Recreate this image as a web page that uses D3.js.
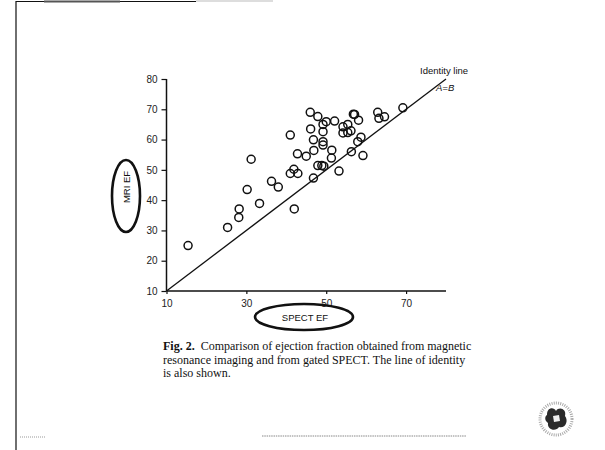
<!DOCTYPE html>
<html lang="en">
<head>
<meta charset="UTF-8" />
<title>MRI EF vs SPECT EF</title>
<script src="https://cdn.jsdelivr.net/npm/d3@7"></script>
<style>
body{margin:0;background:#fff}
svg{display:block}
.tick text{font-family:"Liberation Sans",Arial,sans-serif;font-size:10px;fill:#222}
.cap{font-family:"Liberation Serif","Times New Roman",serif;font-size:12px;fill:#111}
.lbl{font-family:"Liberation Sans",Arial,sans-serif;font-size:9.5px;fill:#111}
</style>
</head>
<body>
<svg id="chart" width="605" height="450"></svg>
<script>
/* ===== data ===== */
const spectEF=[15.4,25.3,28.1,28.2,30.2,31.2,33.3,36.3,38.0,41.0,41.0,41.9,42.9,42.0,42.8,45.0,
  46.0,46.1,47.9,46.8,46.9,46.8,49.2,49.2,49.2,49.2,50.0,52.1,47.9,48.9,49.4,51.4,51.3,53.2,
  54.2,54.2,55.4,55.4,56.2,56.8,57.1,58.1,56.3,57.9,58.7,59.2,62.9,63.2,64.6,69.2];
const mriEF=[25.0,31.0,34.3,37.1,43.5,53.5,38.9,46.2,44.3,61.5,48.8,50.2,48.8,37.1,55.3,54.5,
  69.0,63.5,67.6,59.9,56.4,47.3,65.0,62.6,59.3,58.2,65.9,66.1,51.4,51.4,51.2,56.5,53.9,49.6,
  64.2,62.2,65.0,62.3,62.9,68.4,68.3,66.4,56.0,59.3,60.8,54.7,69.0,67.0,67.5,70.5];
const xTicks=[10,30,50,70];
const yTicks=[10,20,30,40,50,60,70,80];
const identity=[10,80];
const caption=[
  ["Fig. 2.","  Comparison of ejection fraction obtained from magnetic"],
  ["","resonance imaging and from gated SPECT. The line of identity"],
  ["","is also shown."]
];

const svg=d3.select('#chart');
const x=d3.scaleLinear().domain([10,80]).range([166.5,446]);
const y=d3.scaleLinear().domain([10,80]).range([291,79]);

/* ===== page frame of the scan ===== */
svg.append('line').attr('x1',16).attr('x2',16).attr('y1',1).attr('y2',450).attr('stroke','#333').attr('stroke-width',1.4);
svg.append('line').attr('x1',16).attr('x2',196).attr('y1',1.5).attr('y2',1.5).attr('stroke','#111').attr('stroke-width',1.2);
svg.append('line').attr('x1',44).attr('x2',120).attr('y1',1.5).attr('y2',1.5).attr('stroke','#555').attr('stroke-width',2);
svg.append('line').attr('x1',196).attr('x2',273).attr('y1',1).attr('y2',1).attr('stroke','#bbb').attr('stroke-width',1);
svg.append('line').attr('x1',20).attr('x2',45).attr('y1',437).attr('y2',437).attr('stroke','#999').attr('stroke-width',1).attr('stroke-dasharray','1,1');
svg.append('line').attr('x1',262).attr('x2',466).attr('y1',436).attr('y2',436).attr('stroke','#888').attr('stroke-width',1).attr('stroke-dasharray','1.5,0.8');

/* ===== axes ===== */
const gx=svg.append('g').attr('transform',`translate(0,${y(10)})`)
  .call(d3.axisBottom(x).tickValues(xTicks).tickSize(3).tickPadding(6));
const gy=svg.append('g').attr('transform',`translate(${x(10)},0)`)
  .call(d3.axisLeft(y).tickValues(yTicks).tickSize(5).tickPadding(4));
[gx,gy].forEach(g=>{
  g.select('.domain').attr('stroke','#111').attr('stroke-width',1.5);
  g.selectAll('.tick line').attr('stroke','#111').attr('stroke-width',1.2);
});
gx.select('.domain').attr('d',`M${x(10)},0H${x(80)}`);
gy.select('.domain').attr('d',`M0,${y(10)}V${y(80)}`);

/* identity line */
svg.append('line')
  .attr('x1',x(identity[0])).attr('y1',y(identity[0]))
  .attr('x2',x(identity[1])).attr('y2',y(identity[1]))
  .attr('stroke','#111').attr('stroke-width',1.3);
svg.append('text').attr('class','lbl').attr('x',420).attr('y',74).text('Identity line');
svg.append('text').attr('class','lbl').attr('x',436).attr('y',91).attr('font-style','italic').text('A=B');

/* points */
svg.append('g').selectAll('circle').data(spectEF).join('circle')
  .attr('cx',d=>x(d)).attr('cy',(d,i)=>y(mriEF[i])).attr('r',4)
  .attr('fill','none').attr('stroke','#111').attr('stroke-width',1.5);

/* axis titles in hand-drawn ellipses */
svg.append('ellipse').attr('cx',126).attr('cy',196).attr('rx',14).attr('ry',36)
  .attr('fill','none').attr('stroke','#111').attr('stroke-width',2.6);
svg.append('text').attr('class','lbl').attr('transform','translate(130,187) rotate(-90)')
  .attr('text-anchor','middle').text('MRI EF');
svg.append('ellipse').attr('cx',304).attr('cy',317).attr('rx',49).attr('ry',13)
  .attr('fill','none').attr('stroke','#111').attr('stroke-width',2.6);
svg.append('text').attr('class','lbl').attr('x',305).attr('y',321).attr('text-anchor','middle')
  .text('SPECT EF');

/* caption */
const cap=svg.append('g');
caption.forEach((ln,i)=>{
  const t=cap.append('text').attr('class','cap').attr('x',163).attr('y',350+i*13.5).attr('xml:space','preserve');
  if(ln[0])t.append('tspan').attr('font-weight','bold').text(ln[0]);
  t.append('tspan').text(ln[1]);
});

/* publisher seal, bottom right */
const seal=svg.append('g').attr('transform','translate(556,419)');
seal.append('circle').attr('r',16).attr('fill','none').attr('stroke','#aaa').attr('stroke-width',3).attr('stroke-dasharray','1,1.2');
seal.append('path').attr('d','M-9,-4 C-9,-12 -2,-12 0,-8 C3,-13 11,-10 9,-3 C13,2 9,10 3,8 C0,13 -9,11 -8,4 C-12,1 -11,-3 -9,-4 Z').attr('fill','#2a2a2a');
seal.append('path').attr('d','M-3,-3 L3,-4 L4,2 L-2,3 Z').attr('fill','#eee');
</script>
</body>
</html>
